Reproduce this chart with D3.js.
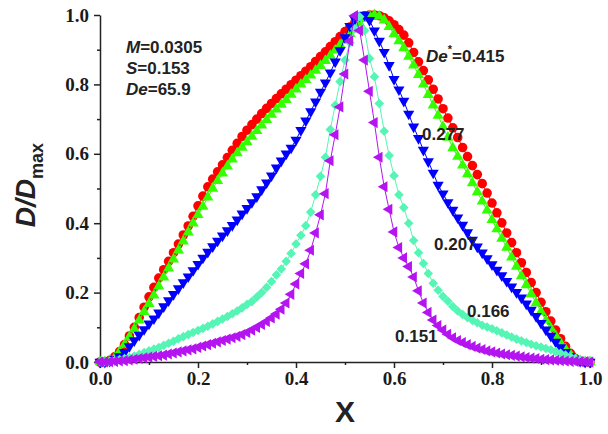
<!DOCTYPE html>
<html>
<head>
<meta charset="utf-8">
<script src="https://cdn.jsdelivr.net/npm/d3@7"></script>
<style>
  body { margin: 0; background: #fff; }
  svg { display: block; }
</style>
</head>
<body>
<div id="chart"></div>
<script>
// sampled positions along X
var xs = [0,0.01,0.02,0.03,0.04,0.05,0.06,0.07,0.08,0.09,
  0.1,0.11,0.12,0.13,0.14,0.15,0.16,0.17,0.18,0.19,
  0.2,0.21,0.22,0.23,0.24,0.25,0.26,0.27,0.28,0.29,
  0.3,0.31,0.32,0.33,0.34,0.35,0.36,0.37,0.38,0.39,
  0.4,0.41,0.42,0.43,0.44,0.45,0.46,0.47,0.48,0.49,
  0.5,0.51,0.52,0.53,0.54,0.55,0.56,0.57,0.58,0.59,
  0.6,0.61,0.62,0.63,0.64,0.65,0.66,0.67,0.68,0.69,
  0.7,0.71,0.72,0.73,0.74,0.75,0.76,0.77,0.78,0.79,
  0.8,0.81,0.82,0.83,0.84,0.85,0.86,0.87,0.88,0.89,
  0.9,0.91,0.92,0.93,0.94,0.95,0.96,0.97,0.98,0.99,
  1.0];

// D/Dmax for each De*
var de415 = [0,0,0.005,0.015,0.03,0.05,0.075,0.1,0.128,0.158,
  0.188,0.215,0.242,0.266,0.29,0.315,0.34,0.366,0.392,0.42,
  0.45,0.478,0.505,0.527,0.548,0.568,0.589,0.61,0.63,0.65,
  0.668,0.684,0.7,0.716,0.731,0.745,0.759,0.773,0.786,0.799,
  0.812,0.825,0.838,0.851,0.866,0.88,0.894,0.909,0.923,0.938,
  0.952,0.965,0.978,0.99,0.998,1,1,0.998,0.992,0.983,
  0.972,0.958,0.942,0.92,0.892,0.865,0.84,0.813,0.786,0.758,
  0.73,0.703,0.675,0.647,0.618,0.592,0.566,0.54,0.514,0.487,
  0.458,0.43,0.401,0.372,0.344,0.315,0.286,0.258,0.229,0.2,
  0.172,0.145,0.118,0.092,0.067,0.045,0.025,0.01,0.003,0,
  0];

var de277 = [0,0,0.004,0.012,0.03,0.05,0.072,0.095,0.12,0.145,
  0.168,0.192,0.218,0.244,0.27,0.296,0.322,0.348,0.374,0.4,
  0.424,0.448,0.475,0.5,0.522,0.544,0.564,0.584,0.602,0.618,
  0.634,0.65,0.666,0.682,0.698,0.713,0.728,0.742,0.756,0.771,
  0.786,0.8,0.813,0.826,0.84,0.854,0.868,0.883,0.898,0.914,
  0.93,0.946,0.962,0.976,0.99,0.998,1,0.996,0.985,0.966,
  0.945,0.925,0.905,0.88,0.855,0.828,0.8,0.77,0.74,0.71,
  0.678,0.647,0.617,0.592,0.567,0.542,0.516,0.49,0.463,0.437,
  0.41,0.383,0.356,0.33,0.302,0.275,0.248,0.222,0.196,0.17,
  0.145,0.12,0.097,0.075,0.055,0.037,0.022,0.01,0.003,0,
  0];

var de207 = [0,0,0.003,0.008,0.016,0.028,0.045,0.062,0.078,0.094,
  0.11,0.125,0.142,0.16,0.177,0.195,0.212,0.229,0.246,0.264,
  0.282,0.3,0.317,0.333,0.349,0.364,0.379,0.394,0.41,0.427,
  0.443,0.46,0.477,0.497,0.517,0.537,0.56,0.58,0.6,0.617,
  0.64,0.668,0.695,0.722,0.75,0.778,0.805,0.834,0.865,0.898,
  0.935,0.968,0.988,0.998,1,0.985,0.955,0.925,0.893,0.855,
  0.815,0.785,0.752,0.715,0.678,0.645,0.611,0.578,0.545,0.51,
  0.485,0.46,0.438,0.416,0.395,0.373,0.352,0.332,0.315,0.298,
  0.281,0.265,0.249,0.233,0.217,0.201,0.185,0.168,0.15,0.132,
  0.112,0.093,0.075,0.058,0.042,0.028,0.016,0.008,0.003,0,
  0];

var de166 = [0,0,0.002,0.004,0.007,0.01,0.013,0.017,0.022,0.027,
  0.032,0.037,0.042,0.048,0.054,0.06,0.067,0.073,0.079,0.085,
  0.091,0.097,0.103,0.11,0.117,0.124,0.131,0.139,0.147,0.156,
  0.166,0.174,0.187,0.2,0.215,0.232,0.251,0.268,0.29,0.313,
  0.34,0.365,0.393,0.432,0.482,0.535,0.59,0.67,0.74,0.808,
  0.87,0.92,0.96,0.995,0.955,0.875,0.822,0.745,0.665,0.595,
  0.537,0.482,0.445,0.4,0.35,0.315,0.284,0.255,0.227,0.207,
  0.189,0.175,0.16,0.147,0.137,0.128,0.12,0.113,0.106,0.101,
  0.096,0.09,0.084,0.078,0.072,0.066,0.061,0.056,0.051,0.047,
  0.043,0.039,0.035,0.03,0.025,0.02,0.015,0.01,0.006,0.003,
  0.001];

var de151 = [0,0,0.001,0.002,0.003,0.004,0.006,0.008,0.01,0.012,
  0.014,0.016,0.018,0.02,0.023,0.026,0.029,0.032,0.035,0.038,
  0.042,0.046,0.05,0.054,0.058,0.062,0.066,0.07,0.074,0.079,
  0.085,0.092,0.1,0.108,0.117,0.127,0.138,0.152,0.17,0.195,
  0.225,0.255,0.283,0.322,0.372,0.424,0.485,0.58,0.655,0.735,
  0.83,0.925,0.998,0.955,0.87,0.78,0.69,0.59,0.505,0.44,
  0.375,0.33,0.3,0.275,0.245,0.205,0.17,0.143,0.121,0.105,
  0.092,0.08,0.07,0.062,0.056,0.05,0.045,0.04,0.036,0.032,
  0.029,0.026,0.023,0.021,0.019,0.017,0.015,0.013,0.011,0.01,
  0.008,0.007,0.006,0.005,0.004,0.003,0.002,0.002,0.001,0.001,
  0];

var xTicks = [0, 0.2, 0.4, 0.6, 0.8, 1.0];
var yTicks = [0, 0.2, 0.4, 0.6, 0.8, 1.0];
var minorTicks = [0.1, 0.3, 0.5, 0.7, 0.9];

var series = [
  {vals: de415, color: "#ff0000", shape: "circle"},
  {vals: de277, color: "#33ff00", shape: "up"},
  {vals: de207, color: "#0000ff", shape: "down"},
  {vals: de166, color: "#55f5b5", shape: "diamond"},
  {vals: de151, color: "#b414f0", shape: "left"}
];

var svgWidth = 608;
var svgHeight = 434;
var margin = {top: 15, right: 18, bottom: 72, left: 100};
var chartWidth = svgWidth - margin.left - margin.right;
var chartHeight = svgHeight - margin.top - margin.bottom;

var svg = d3.select("#chart").append("svg")
  .attr("width", svgWidth)
  .attr("height", svgHeight);

var chartGroup = svg.append("g")
  .attr("transform", `translate(${margin.left}, ${margin.top})`);

var xScale = d3.scaleLinear().domain([0, 1]).range([0, chartWidth]);
var yScale = d3.scaleLinear().domain([0, 1]).range([chartHeight, 0]);

// axes: major with labels, minor without
var tickFont = "'Liberation Serif', 'Times New Roman', serif";

chartGroup.append("g")
  .attr("transform", `translate(0, ${chartHeight})`)
  .call(d3.axisBottom(xScale).tickValues(xTicks).tickFormat(d3.format(".1f")).tickSize(6).tickSizeOuter(0).tickPadding(4));
chartGroup.append("g")
  .attr("transform", `translate(0, ${chartHeight})`)
  .call(d3.axisBottom(xScale).tickValues(minorTicks).tickFormat("").tickSize(3).tickSizeOuter(0))
  .select(".domain").remove();

chartGroup.append("g")
  .call(d3.axisLeft(yScale).tickValues(yTicks).tickFormat(d3.format(".1f")).tickSize(6).tickSizeOuter(0).tickPadding(5));
chartGroup.append("g")
  .call(d3.axisLeft(yScale).tickValues(minorTicks).tickFormat("").tickSize(3).tickSizeOuter(0))
  .select(".domain").remove();

chartGroup.selectAll(".domain, .tick line")
  .attr("stroke", "#222")
  .attr("stroke-width", 1.5);

chartGroup.selectAll(".tick text")
  .style("font-family", tickFont)
  .style("font-weight", "bold")
  .style("font-size", "19px")
  .attr("fill", "#1a1a1a");

// series: thin line then markers
var symbolFor = {
  circle: {type: d3.symbolCircle, size: 72, rot: 0},
  up: {type: d3.symbolTriangle, size: 54, rot: 0},
  down: {type: d3.symbolTriangle, size: 54, rot: 180},
  diamond: {type: d3.symbolSquare, size: 46, rot: 45},
  left: {type: d3.symbolTriangle, size: 54, rot: -90}
};

var line = d3.line()
  .x((d, i) => xScale(xs[i]))
  .y(d => yScale(d));

series.forEach(function(s) {
  chartGroup.append("path")
    .datum(s.vals)
    .attr("d", line)
    .attr("fill", "none")
    .attr("stroke", s.color)
    .attr("stroke-width", 1);

  var sym = symbolFor[s.shape];
  chartGroup.append("g").selectAll("path")
    .data(s.vals)
    .enter().append("path")
    .attr("d", d3.symbol().type(sym.type).size(sym.size))
    .attr("transform", (d, i) => `translate(${xScale(xs[i])}, ${yScale(d)}) rotate(${sym.rot})`)
    .attr("fill", s.color);
});

// annotations
var sansFont = "'Liberation Sans', Arial, sans-serif";
var textColor = "#222";

function note(x, y, parts) {
  var t = svg.append("text")
    .attr("x", x).attr("y", y)
    .style("font-family", sansFont)
    .style("font-weight", "bold")
    .style("font-size", "17px")
    .attr("fill", textColor);
  parts.forEach(function(p) {
    var ts = t.append("tspan").text(p.t);
    if (p.i) ts.style("font-style", "italic");
    if (p.dy) ts.attr("dy", p.dy);
    if (p.fs) ts.style("font-size", p.fs);
  });
  return t;
}

note(126, 53, [{t: "M", i: true}, {t: "=0.0305"}]);
note(126, 74, [{t: "S", i: true}, {t: "=0.153"}]);
note(126, 95, [{t: "De", i: true}, {t: "=65.9"}]);

note(426, 62, [{t: "De", i: true}, {t: "*", dy: -9, fs: "11px"}, {t: "=0.415", dy: 9}]);
note(422, 140, [{t: "0.277"}]);
note(434, 250, [{t: "0.207"}]);
note(467, 317, [{t: "0.166"}]);
note(395, 342, [{t: "0.151"}]);

// axis titles
svg.append("text")
  .attr("x", margin.left + xScale(0.5))
  .attr("y", 422)
  .attr("text-anchor", "middle")
  .style("font-family", sansFont)
  .style("font-weight", "bold")
  .style("font-size", "30px")
  .attr("fill", textColor)
  .text("X");

var yTitle = svg.append("text")
  .attr("transform", "translate(35, 185) rotate(-90)")
  .attr("text-anchor", "middle")
  .style("font-family", sansFont)
  .style("font-weight", "bold")
  .style("font-size", "28px")
  .attr("fill", textColor);
yTitle.append("tspan").style("font-style", "italic").text("D/D");
yTitle.append("tspan").attr("dy", 8).style("font-size", "18px").text("max");
</script>
</body>
</html>
